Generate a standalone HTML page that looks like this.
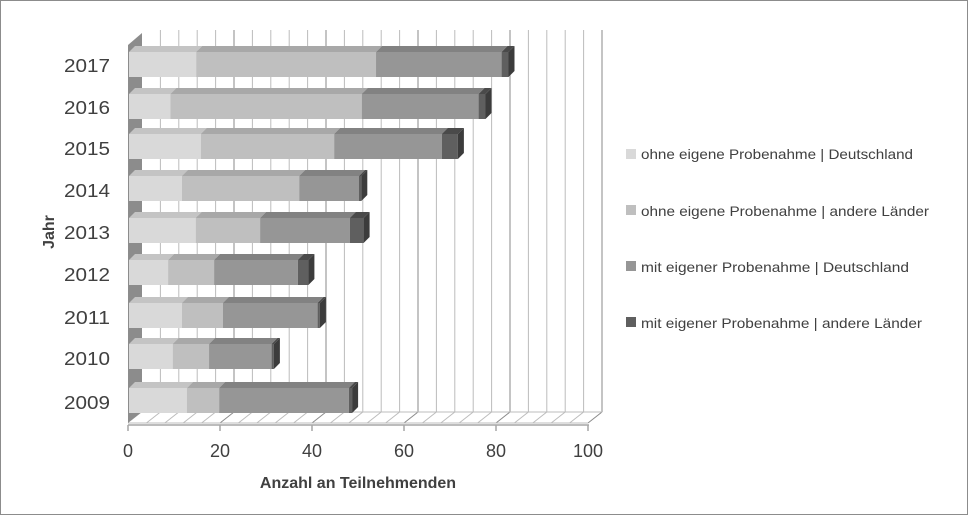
<!DOCTYPE html>
<html><head><meta charset="utf-8"><style>
html,body{margin:0;padding:0;background:#fff}
svg{display:block}
text{font-family:"Liberation Sans",sans-serif}
</style></head><body>
<svg id="s" width="968" height="515" viewBox="0 0 968 515" xmlns="http://www.w3.org/2000/svg">
<rect x="0.5" y="0.5" width="967" height="514" fill="#fff" stroke="#8c8c8c"/>
<g id="grid"></g>
<polygon points="128,45 142,33 142,412 128,423" fill="#8c8c8c"/>
<g id="bars"></g>
<line x1="128" y1="425" x2="589" y2="425" stroke="#a6a6a6" stroke-width="1.5"/>
<g id="ticks"></g>
<g font-size="18" fill="#404040" text-anchor="end">
<text x="110" y="72" textLength="46" lengthAdjust="spacingAndGlyphs">2017</text>
<text x="110" y="114" textLength="46" lengthAdjust="spacingAndGlyphs">2016</text>
<text x="110" y="155" textLength="46" lengthAdjust="spacingAndGlyphs">2015</text>
<text x="110" y="197" textLength="46" lengthAdjust="spacingAndGlyphs">2014</text>
<text x="110" y="239" textLength="46" lengthAdjust="spacingAndGlyphs">2013</text>
<text x="110" y="281" textLength="46" lengthAdjust="spacingAndGlyphs">2012</text>
<text x="110" y="324" textLength="46" lengthAdjust="spacingAndGlyphs">2011</text>
<text x="110" y="365" textLength="46" lengthAdjust="spacingAndGlyphs">2010</text>
<text x="110" y="409" textLength="46" lengthAdjust="spacingAndGlyphs">2009</text>
</g>
<g font-size="18" fill="#404040" text-anchor="middle">
<text x="128" y="457">0</text>
<text x="220" y="457">20</text>
<text x="312" y="457">40</text>
<text x="404" y="457">60</text>
<text x="496" y="457">80</text>
<text x="588" y="457">100</text>
</g>
<text x="358" y="488" font-size="16" font-weight="bold" fill="#404040" text-anchor="middle">Anzahl an Teilnehmenden</text>
<text transform="translate(54,232) rotate(-90)" font-size="16" font-weight="bold" fill="#404040" text-anchor="middle">Jahr</text>
<g font-size="14" fill="#404040">
<rect x="626" y="149" width="10" height="10" fill="#d9d9d9"/>
<text x="641" y="159" textLength="272" lengthAdjust="spacingAndGlyphs">ohne eigene Probenahme | Deutschland</text>
<rect x="626" y="205" width="10" height="10" fill="#bfbfbf"/>
<text x="641" y="216" textLength="288" lengthAdjust="spacingAndGlyphs">ohne eigene Probenahme | andere Länder</text>
<rect x="626" y="261" width="10" height="10" fill="#969696"/>
<text x="641" y="272" textLength="268" lengthAdjust="spacingAndGlyphs">mit eigener Probenahme | Deutschland</text>
<rect x="626" y="317" width="10" height="10" fill="#5f5f5f"/>
<text x="641" y="328" textLength="281" lengthAdjust="spacingAndGlyphs">mit eigener Probenahme | andere Länder</text>
</g>
</svg>
<script>
var NS="http://www.w3.org/2000/svg";
function el(p,t,a){var e=document.createElementNS(NS,t);for(var k in a)e.setAttribute(k,a[k]);p.appendChild(e);return e;}
var g=document.getElementById("grid");
for(var v=4;v<=100;v+=4){
 var fx=128+4.6*v, bx=142+4.6*v, c=(v%20==0)?"#8a8a8a":"#bcbcbc";
 el(g,"line",{x1:bx,y1:30,x2:bx,y2:412,stroke:c,"stroke-width":1});
 el(g,"line",{x1:fx,y1:423,x2:bx,y2:412,stroke:c,"stroke-width":1});
}
el(g,"line",{x1:142,y1:412,x2:602,y2:412,stroke:"#bcbcbc"});
el(g,"line",{x1:128,y1:423,x2:588,y2:423,stroke:"#bcbcbc"});
var t=document.getElementById("ticks");
for(var v=0;v<=100;v+=20){var x=128+4.6*v;el(t,"line",{x1:x,y1:425,x2:x,y2:431,stroke:"#a6a6a6","stroke-width":1.5});}
var data=[[65,14.6,53.7,81,82.5],[107,9,50.6,76,77.5],[147,15.6,44.6,68,71.5],[189,11.5,37,50,50.5],[231,14.5,28.5,48,51],[273,8.5,18.5,36.7,39],[316,11.5,20.4,41,41.5],[357,9.5,17.4,31,31.5],[401,12.6,19.6,47.8,48.5]];
var cols=[["#d9d9d9","#c4c4c4","#b0b0b0"],["#bfbfbf","#a8a8a8","#969696"],["#969696","#828282","#6e6e6e"],["#5f5f5f","#4a4a4a","#3c3c3c"]];
var b=document.getElementById("bars");
data.forEach(function(d){
 var c=d[0], top=c-13, bot=c+12, dx=6, dy=6;
 var vals=[0,d[1],d[2],d[3],d[4]];
 for(var i=0;i<4;i++){
  var x0=129+4.6*vals[i], x1=129+4.6*vals[i+1];
  if(x1-x0<0.1)continue;
  el(b,"polygon",{points:x0+","+top+" "+(x0+dx)+","+(top-dy)+" "+(x1+dx)+","+(top-dy)+" "+x1+","+top,fill:cols[i][1]});
  el(b,"rect",{x:x0,y:top,width:x1-x0,height:bot-top,fill:cols[i][0]});
 }
 var xe=129+4.6*d[4];
 el(b,"polygon",{points:xe+","+top+" "+(xe+dx)+","+(top-dy)+" "+(xe+dx)+","+(bot-dy)+" "+xe+","+bot,fill:"#3c3c3c"});
});
</script>
</body></html>
